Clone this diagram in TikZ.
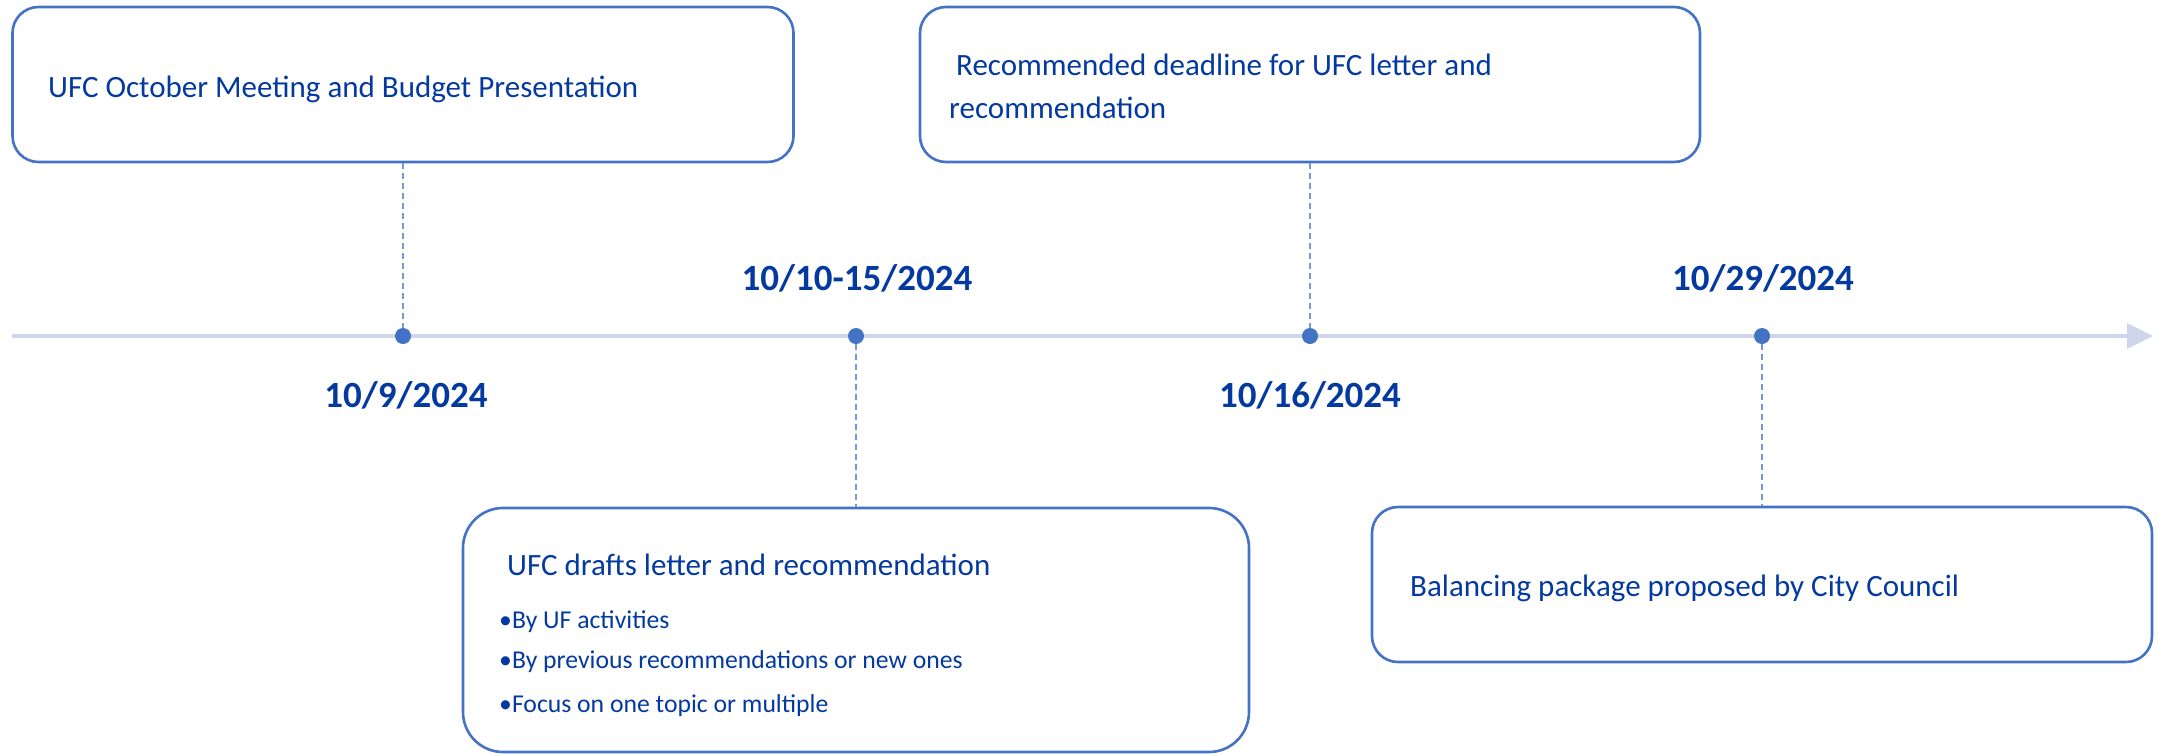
\documentclass[tikz,border=0pt]{standalone}
\usepackage{fontspec}
\setmainfont{Carlito}
\usetikzlibrary{arrows.meta,positioning}
\definecolor{framecol}{RGB}{68,114,196}
\definecolor{axiscol}{RGB}{207,214,236}
\definecolor{textcol}{RGB}{4,58,160}
\definecolor{dashcol}{RGB}{120,152,214}
\tikzset{evbox/.style={draw=framecol, line width=2.6pt, rounded corners=#1, inner sep=0pt},
  evtext/.style={textcol, anchor=base west, inner sep=0pt, font=\fontsize{31}{37}\selectfont},
  subtext/.style={textcol, anchor=base west, inner sep=0pt, font=\fontsize{25.7}{31}\selectfont},
  datelbl/.style={textcol, anchor=base, inner sep=0pt, font=\fontsize{37}{44}\selectfont\bfseries},
  evdot/.style={circle, fill=framecol, minimum size=16pt, inner sep=0pt},
  tickline/.style={dashcol, line width=1.8pt, dash pattern=on 6pt off 4pt},
  axis/.style={axiscol, line width=3.2pt, -{Triangle[length=26pt,width=25pt]}}}

\begin{document}
\begin{tikzpicture}[x=1pt,y=-1pt]
   \useasboundingbox (0,0) rectangle (2158,753);
   \coordinate (axstart) at (12,336);
   \coordinate (axend) at (2153,336);
   \draw[axis] (axstart) -- (axend);
   \node[evbox=26pt, minimum width=781pt, minimum height=155pt] (meet) at (403,84.5) {};
   \node[evbox=26pt, minimum width=780pt, minimum height=155pt] (deadline) at (1310,84.5) {};
   \node[evbox=40pt, minimum width=786pt, minimum height=244pt] (drafts) at (856,630) {};
   \node[evbox=26pt, minimum width=780pt, minimum height=155pt] (council) at (1762,584.5) {};
   \node[evdot] (d1) at (403,336) {};
   \node[evdot] (d2) at (856,336) {};
   \node[evdot] (d3) at (1310,336) {};
   \node[evdot] (d4) at (1762,336) {};
   \draw[tickline] (meet) -- (d1);
   \draw[tickline] (d2) -- (drafts);
   \draw[tickline] (deadline) -- (d3);
   \draw[tickline] (d4) -- (council);
   \node[datelbl] (date1) at (406,407) {10/9/2024};
   \node[datelbl] (date2) at (857,290) {10/10-15/2024};
   \node[datelbl] (date3) at (1310,407) {10/16/2024};
   \node[datelbl] (date4) at (1763,290) {10/29/2024};
   \node[evtext] (meettxt) at (48,97) {UFC October Meeting and Budget Presentation};
   \node[evtext] (deadtxt) at (949,75) {\hspace{7pt}Recommended deadline for UFC letter and};
   \node[evtext] (deadtxt2) at (949,118) {recommendation};
   \node[evtext] (drafttxt) at (507,575) {UFC drafts letter and recommendation};
   \node[subtext] (item1) at (499,628) {•By UF activities};
   \node[subtext] (item2) at (499,668) {•By previous recommendations or new ones};
   \node[subtext] (item3) at (499,712) {•Focus on one topic or multiple};
   \node[evtext] (counciltxt) at (1410,596) {Balancing package proposed by City Council};
\end{tikzpicture}
\end{document}
